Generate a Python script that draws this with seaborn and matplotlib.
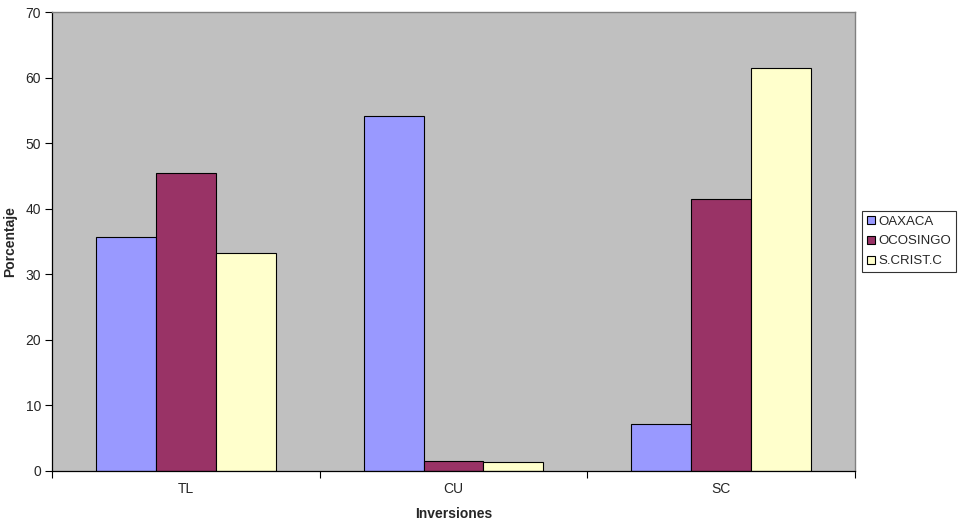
import matplotlib
matplotlib.use("Agg")
import matplotlib.pyplot as plt
import seaborn as sns
import pandas as pd

categories = ["TL", "CU", "SC"]
series = ["OAXACA", "OCOSINGO", "S.CRIST.C"]
oaxaca = [35.7, 54.1, 7.1]
ocosingo = [45.4, 1.5, 41.5]
scrist = [33.3, 1.3, 61.5]
colors = ["#9999FF", "#993366", "#FFFFCC"]

rows = []
for name, vals in zip(series, [oaxaca, ocosingo, scrist]):
    for c, v in zip(categories, vals):
        rows.append({"Inversiones": c, "Serie": name, "Porcentaje": v})
df = pd.DataFrame(rows)

sns.set_theme(style="white")
plt.rcParams["font.family"] = ["Liberation Sans", "DejaVu Sans"]

fig = plt.figure(figsize=(9.6, 5.2), dpi=100)
ax = fig.add_axes([52/960, 49/520, (855-52)/960, (471-12)/520])
sns.barplot(data=df, x="Inversiones", y="Porcentaje", hue="Serie",
            order=categories, hue_order=series, palette=colors,
            width=0.67, edgecolor="black", linewidth=0.8, ax=ax, errorbar=None,
            saturation=1)
ax.set_facecolor("#C0C0C0")
ax.set_ylim(0, 70)
ax.set_xlim(-0.5, 2.5)
ax.set_yticks(range(0, 71, 10))
ax.tick_params(axis="y", direction="out", length=5, width=0.8, color="black",
               labelsize=10, left=True, pad=3)
ax.tick_params(axis="x", which="major", length=0, labelsize=10, pad=8)
ax.set_xticks([-0.5, 0.5, 1.5, 2.5], minor=True)
ax.tick_params(axis="x", which="minor", direction="out", length=5, width=0.8,
               color="black", bottom=True)
for s in ["left", "bottom"]:
    ax.spines[s].set_color("black")
    ax.spines[s].set_linewidth(0.9)
for s in ["top", "right"]:
    ax.spines[s].set_color("#808080")
    ax.spines[s].set_linewidth(1.0)
ax.set_xlabel("Inversiones", fontsize=10, fontweight="bold", labelpad=8)
ax.set_ylabel("Porcentaje", fontsize=10, fontweight="bold", labelpad=6)

leg = ax.legend(loc="center left", bbox_to_anchor=(1.009, 0.5), fontsize=9.5,
                frameon=True, fancybox=False, edgecolor="black",
                handlelength=0.6, handleheight=0.6, handletextpad=0.3,
                borderpad=0.35, labelspacing=0.6, borderaxespad=0)
leg.get_frame().set_linewidth(0.8)
fig.savefig("out.png", dpi=100)
